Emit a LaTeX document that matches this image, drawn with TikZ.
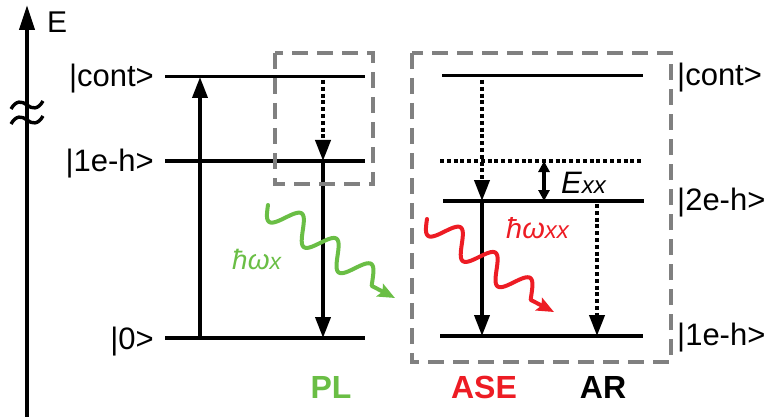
\documentclass[tikz,border=0pt]{standalone}
\usepackage{fontspec}
\setmainfont{Liberation Sans}
\usetikzlibrary{arrows.meta}
\definecolor{plgreen}{RGB}{106,190,69}
\definecolor{asered}{RGB}{237,28,36}
\definecolor{boxgray}{RGB}{128,128,128}
\begin{document}
\begin{tikzpicture}[x=1pt,y=-1pt,
  thicklevel/.style={line width=4.4pt},
  thinlevel/.style={line width=3pt},
  lbl/.style={inner sep=0pt, font=\fontsize{31}{31}\selectfont},
  proc/.style={inner sep=0pt, font=\fontsize{32}{32}\selectfont\bfseries},
  trans/.style={line width=3.8pt, -{Triangle[length=21pt,width=15pt]}},
  dotline/.style={line width=4pt, dash pattern=on 4pt off 2.8pt},
  gbox/.style={draw=boxgray, line width=3.8pt, dash pattern=on 16pt off 9pt},
  wave/.style={line width=4pt, line cap=round, line join=round,
    -{Stealth[length=17pt,width=14pt,inset=3pt]}},
]
\useasboundingbox (0,0) rectangle (768,417);

% energy axis
\coordinate (axB) at (27,417);
\coordinate (axT) at (27,5);
\draw[line width=4pt, -{Triangle[length=25pt,width=15pt]}] (axB) -- (axT);
\node[inner sep=0pt, anchor=base west, font=\fontsize{30}{30}\selectfont] (E) at (47,33) {E};
% break mark
\draw[line width=3.4pt] (11,109) .. controls (16,100) and (22,101) .. (27,105) .. controls (32,109) and (38,110) .. (43,101);
\draw[line width=3.4pt] (11,124) .. controls (16,115) and (22,116) .. (27,120) .. controls (32,124) and (38,125) .. (43,116);

% ---------- left: PL ----------
\coordinate (LcA) at (165,77);  \coordinate (LcB) at (365,77);
\coordinate (L1A) at (165,161); \coordinate (L1B) at (365,161);
\coordinate (L0A) at (165,338); \coordinate (L0B) at (365,338);
\draw[thinlevel] (LcA) -- (LcB);
\draw[thicklevel] (L1A) -- (L1B);
\draw[thicklevel] (L0A) -- (L0B);
\node[lbl, anchor=base east] (lcont) at (154,87) {|cont>};
\node[lbl, anchor=base east] (l1eh) at (154,171) {|1e-h>};
\node[lbl, anchor=base east] (l0) at (154,349) {|0>};

\coordinate (exB) at (200,338); \coordinate (exT) at (200,77);
\draw[trans] (exB) -- (exT);
\coordinate (r1T) at (323,80); \coordinate (r1B) at (323,161);
\draw[dotline, -{Triangle[length=21pt,width=15pt]}] (r1T) -- (r1B);
\coordinate (r2B) at (323,338);
\draw[trans] (r1B) -- (r2B);
\draw[gbox] (275,53) rectangle (373,184);

% green photon (PL)
\coordinate (gwEnd) at (395,298);
\draw[wave, plgreen] plot[domain=0:1100, samples=160, smooth, variable=\t]
  ({268+\t/360*43*0.809-13*sin(\t)*0.588}, {205+\t/360*43*0.588+13*sin(\t)*0.809}) -- (gwEnd);
\node[inner sep=0pt, anchor=base west, text=plgreen, font=\fontsize{28}{28}\selectfont\itshape] (hwx) at (232,269) {ħω\fontsize{23}{23}\selectfont x};
\node[proc, anchor=base, text=plgreen] (PL) at (331,398) {PL};

% ---------- right: ASE / AR ----------
\draw[gbox] (412,53) rectangle (671,362);
\coordinate (RcA) at (442,76);  \coordinate (RcB) at (643,76);
\coordinate (RvA) at (440,161); \coordinate (RvB) at (643,161);
\coordinate (R2A) at (443,201); \coordinate (R2B) at (644,201);
\coordinate (R1A) at (440,336); \coordinate (R1B) at (643,336);
\draw[thinlevel] (RcA) -- (RcB);
\draw[dotline] (RvA) -- (RvB);
\draw[thicklevel] (R2A) -- (R2B);
\draw[thicklevel] (R1A) -- (R1B);
\node[lbl, anchor=base west] (rcont) at (677,86) {|cont>};
\node[lbl, anchor=base west] (r2eh) at (677,210) {|2e-h>};
\node[lbl, anchor=base west] (r1eh) at (677,345) {|1e-h>};

\coordinate (s1T) at (482,80); \coordinate (s1M) at (482,201); \coordinate (s1B) at (482,336);
\draw[dotline, -{Triangle[length=21pt,width=15pt]}] (s1T) -- (s1M);
\draw[trans] (s1M) -- (s1B);
\coordinate (xxT) at (544,161); \coordinate (xxB) at (544,201);
\draw[line width=3.6pt, {Triangle[length=11pt,width=11pt]}-{Triangle[length=11pt,width=11pt]}] (xxT) -- (xxB);
\node[inner sep=0pt, anchor=base west, font=\fontsize{31}{31}\selectfont\itshape] (Exx) at (561,193) {E\fontsize{24}{24}\selectfont xx};
\coordinate (arT) at (597,204); \coordinate (arB) at (597,336);
\draw[dotline, -{Triangle[length=21pt,width=15pt]}] (arT) -- (arB);

% red photon (ASE)
\coordinate (rwEnd) at (554,312);
\draw[wave, asered] plot[domain=0:1100, samples=160, smooth, variable=\t]
  ({427+\t/360*43*0.809-13*sin(\t)*0.588}, {219+\t/360*43*0.588+13*sin(\t)*0.809}) -- (rwEnd);
\node[inner sep=0pt, anchor=base west, text=asered, font=\fontsize{29}{29}\selectfont\itshape] (hwxx) at (506,238) {ħω\fontsize{24}{24}\selectfont xx};

\node[proc, anchor=base, text=asered] (ASE) at (484,398) {ASE};
\node[proc, anchor=base] (AR) at (603,398) {AR};
\end{tikzpicture}
\end{document}
